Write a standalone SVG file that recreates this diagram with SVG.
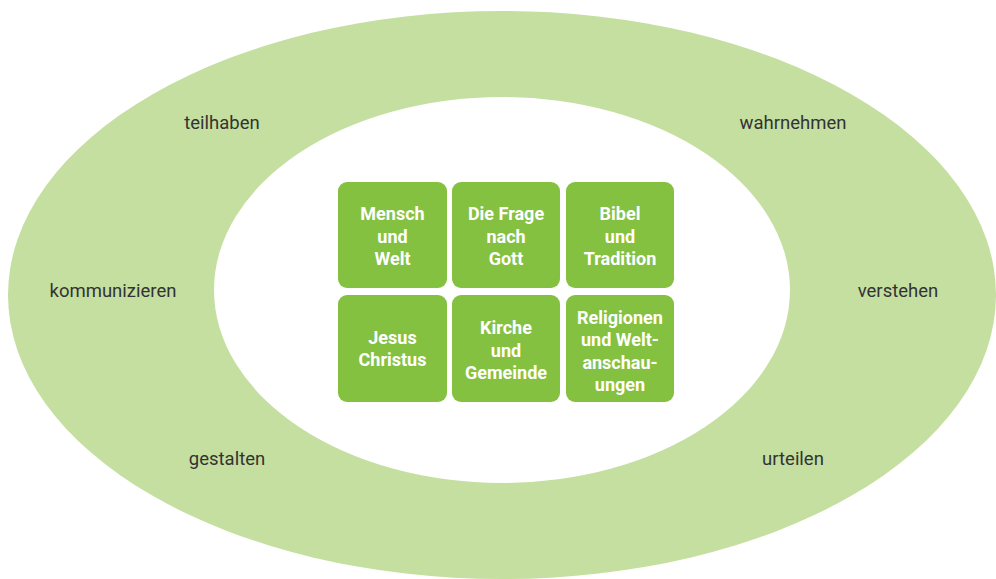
<svg xmlns="http://www.w3.org/2000/svg" width="996" height="579" viewBox="0 0 996 579">
<style>
.box{fill:#85c141}
.bt{font-family:Roboto,"Liberation Sans",sans-serif;font-weight:bold;font-size:18px;fill:#ffffff;text-anchor:middle}
.lbl{font-family:Roboto,"Liberation Sans",sans-serif;font-size:18.5px;fill:#333333;text-anchor:middle}
</style>
<rect width="996" height="579" fill="#ffffff"/>
<g id="ring">
<ellipse cx="502" cy="295" rx="494" ry="284" fill="#c4dfa0"/>
<ellipse cx="502" cy="290" rx="288" ry="193" fill="#ffffff"/>
</g>
<g id="labels">
<text class="lbl" x="222" y="129">teilhaben</text>
<text class="lbl" x="113" y="297">kommunizieren</text>
<text class="lbl" x="227" y="465">gestalten</text>
<text class="lbl" x="793" y="129">wahrnehmen</text>
<text class="lbl" x="898" y="297">verstehen</text>
<text class="lbl" x="793" y="465">urteilen</text>
</g>
<g id="connectors"></g>
<g id="n1"><rect class="box" x="338" y="182" width="109" height="106" rx="9"/>
<text class="bt" x="392.5" y="219.5">Mensch</text><text class="bt" x="392.5" y="243">und</text><text class="bt" x="392.5" y="265">Welt</text></g>
<g id="n2"><rect class="box" x="452" y="182" width="108" height="106" rx="9"/>
<text class="bt" x="506" y="219.5">Die Frage</text><text class="bt" x="506" y="243">nach</text><text class="bt" x="506" y="265">Gott</text></g>
<g id="n3"><rect class="box" x="566" y="182" width="108" height="106" rx="9"/>
<text class="bt" x="620" y="219.5">Bibel</text><text class="bt" x="620" y="243">und</text><text class="bt" x="620" y="265">Tradition</text></g>
<g id="n4"><rect class="box" x="338" y="295" width="109" height="107" rx="9"/>
<text class="bt" x="392.5" y="343.5">Jesus</text><text class="bt" x="392.5" y="366">Christus</text></g>
<g id="n5"><rect class="box" x="452" y="295" width="108" height="107" rx="9"/>
<text class="bt" x="506" y="333.5">Kirche</text><text class="bt" x="506" y="357">und</text><text class="bt" x="506" y="379">Gemeinde</text></g>
<g id="n6"><rect class="box" x="566" y="295" width="108" height="107" rx="9"/>
<text class="bt" x="620" y="323.5">Religionen</text><text class="bt" x="620" y="346">und Welt-</text><text class="bt" x="620" y="369">anschau-</text><text class="bt" x="620" y="391">ungen</text></g>
</svg>
